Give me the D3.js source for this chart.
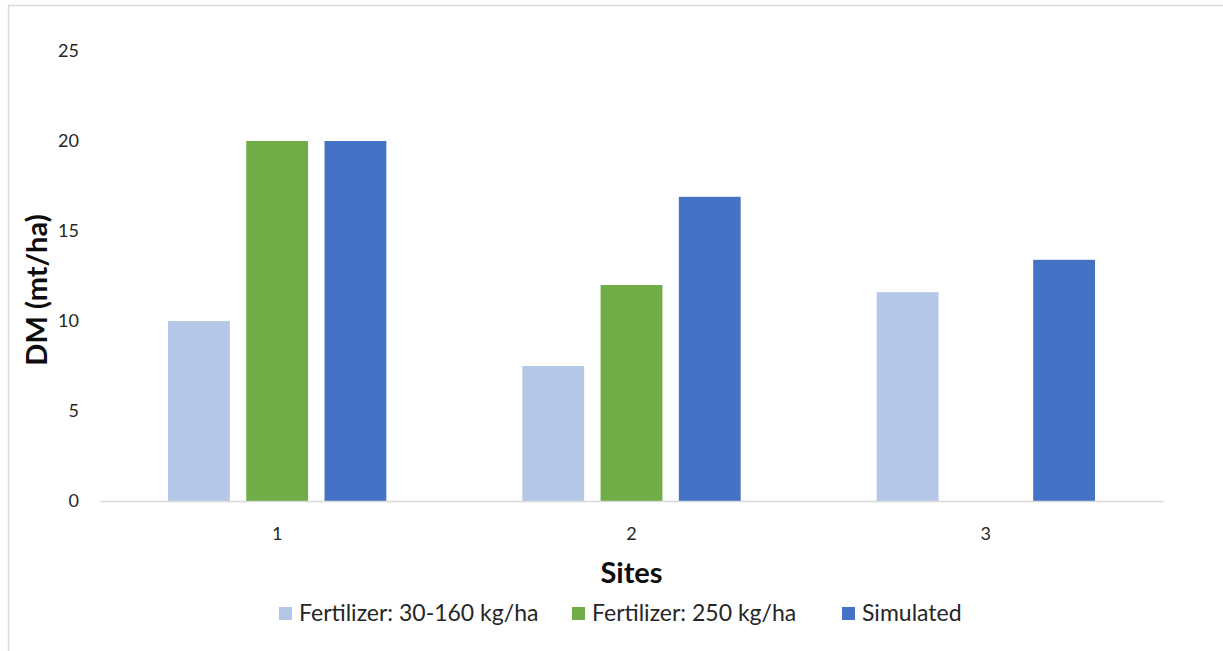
<!DOCTYPE html>
<html>
<head>
<meta charset="utf-8">
<script src="https://cdn.jsdelivr.net/npm/d3@7"></script>
<style>
  body { margin: 0; background: #fff; }
  svg { display: block; font-family: Lato, "Open Sans", sans-serif; }
</style>
</head>
<body>
<div id="chart"></div>
<script>
const sites = ["1", "2", "3"];
const seriesNames = ["Fertilizer: 30-160 kg/ha", "Fertilizer: 250 kg/ha", "Simulated"];
const lowFertilizer = [10, 7.5, 11.6];
const highFertilizer = [20, 12, null];
const simulated = [20, 16.9, 13.4];
const yTicks = [0, 5, 10, 15, 20, 25];
const colors = ["#B4C7E7", "#70AD47", "#4472C4"];

const width = 1223, height = 651;
const margin = { top: 52, right: 61, bottom: 150, left: 100 };

const svg = d3.select("#chart").append("svg")
  .attr("width", width).attr("height", height);

// outer frame (left and top edges visible)
svg.append("path")
  .attr("d", `M8.5,${height} V5.5 H${width}`)
  .attr("fill", "none").attr("stroke", "#d9d9d9").attr("stroke-width", 1.5);

const x = d3.scaleBand().domain(sites)
  .range([margin.left, width - margin.right + 1])
  .paddingInner(0).paddingOuter(0);

const inner = d3.scaleBand().domain(seriesNames)
  .range([68, x.bandwidth() - 68]).paddingInner(0.21);

const y = d3.scaleLinear().domain([0, 25]).range([height - margin.bottom, margin.top - 1]);

const color = d3.scaleOrdinal().domain(seriesNames).range(colors);

const table = sites.map((s, i) => ({
  site: s,
  values: [lowFertilizer[i], highFertilizer[i], simulated[i]].map((v, j) => ({ name: seriesNames[j], value: v }))
}));

// y axis labels
svg.append("g")
  .attr("transform", `translate(${margin.left - 21},0)`)
  .call(d3.axisLeft(y).tickValues(yTicks).tickSize(0).tickPadding(0))
  .call(g => g.select(".domain").remove())
  .call(g => g.selectAll("text").attr("font-size", 18).attr("fill", "#262626")
    .attr("font-family", "Lato, 'Open Sans', sans-serif"));

// bars
svg.append("g").selectAll("g")
  .data(table)
  .join("g")
  .attr("transform", d => `translate(${x(d.site)},0)`)
  .selectAll("rect")
  .data(d => d.values.filter(v => v.value != null))
  .join("rect")
  .attr("x", d => inner(d.name))
  .attr("width", inner.bandwidth())
  .attr("y", d => y(d.value))
  .attr("height", d => y(0) - y(d.value))
  .attr("fill", d => color(d.name));

// x axis
svg.append("g")
  .attr("transform", `translate(0,${y(0)})`)
  .call(d3.axisBottom(x).tickSize(0).tickPadding(26))
  .call(g => g.select(".domain").attr("stroke", "#d9d9d9").attr("stroke-width", 1.5))
  .call(g => g.selectAll("text").attr("font-size", 18).attr("fill", "#262626")
    .attr("font-family", "Lato, 'Open Sans', sans-serif"));

// axis titles
svg.append("text")
  .attr("transform", `translate(47,${(y(0) + y(25)) / 2 + 14}) rotate(-90)`)
  .attr("text-anchor", "middle")
  .attr("font-size", 29).attr("font-weight", "bold").attr("fill", "#0d0d0d")
  .text("DM (mt/ha)");

svg.append("text")
  .attr("x", x("2") + x.bandwidth() / 2)
  .attr("y", 583)
  .attr("text-anchor", "middle")
  .attr("font-size", 29).attr("font-weight", "bold").attr("fill", "#0d0d0d")
  .text("Sites");

// legend
const legendX = [279, 572, 842];
const legend = svg.append("g").selectAll("g")
  .data(seriesNames)
  .join("g")
  .attr("transform", (d, i) => `translate(${legendX[i]},607)`);
legend.append("rect").attr("width", 13).attr("height", 13).attr("fill", d => color(d));
legend.append("text")
  .attr("x", 20)
  .attr("y", 14)
  .attr("font-size", 23).attr("fill", "#262626")
  .text(d => d);
</script>
</body>
</html>
